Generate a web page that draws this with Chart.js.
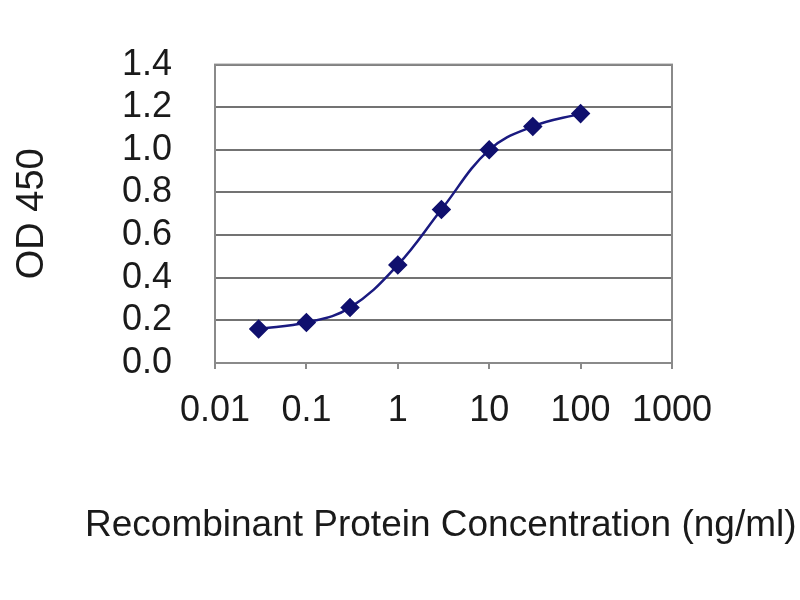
<!DOCTYPE html>
<html>
<head>
<meta charset="utf-8">
<script src="https://cdn.jsdelivr.net/npm/chart.js@4.4.1/dist/chart.umd.min.js"></script>
<style>
  html, body { margin: 0; padding: 0; background: #fff; }
  #wrap { width: 800px; height: 600px; }
</style>
</head>
<body>
<div id="wrap"><canvas id="elisaChart" width="800" height="600"></canvas></div>
<script>
// concentration (ng/ml) and measured OD 450
const concentrations = [0.03, 0.1, 0.3, 1, 3, 10, 30, 100];
const od450 = [0.16, 0.19, 0.26, 0.46, 0.72, 1.00, 1.11, 1.17];
const xTickValues = [0.01, 0.1, 1, 10, 100, 1000];
const yTickValues = [0, 0.2, 0.4, 0.6, 0.8, 1.0, 1.2, 1.4];
const xTitle = 'Recombinant Protein Concentration (ng/ml)';

const points = concentrations.map((c, i) => ({ x: c, y: od450[i] }));

// grey box round the plot area, and the x title drawn without squeezing
const frame = {
    id: 'frame',
    beforeDatasetsDraw(chart) {
        const { ctx, chartArea: a } = chart;
        ctx.save();
        ctx.strokeStyle = '#8a8a8a';
        ctx.lineWidth = 2;
        ctx.strokeRect(a.left, a.top, a.right - a.left, a.bottom - a.top);
        ctx.restore();
    },
    afterDraw(chart) {
        const { ctx } = chart;
        ctx.save();
        ctx.fillStyle = '#1a1a1a';
        ctx.font = '37px "Liberation Sans"';
        ctx.textAlign = 'left';
        ctx.textBaseline = 'middle';
        ctx.fillText(xTitle, 85, 526);
        ctx.restore();
    }
};

const ctx = document.getElementById('elisaChart').getContext('2d');
new Chart(ctx, {
    type: 'scatter',
    data: {
        datasets: [{
            data: points,
            showLine: true,
            tension: 0.4,
            borderColor: '#1a1a80',
            borderWidth: 2.5,
            pointStyle: 'rectRot',
            pointRadius: 8,
            pointBackgroundColor: '#10106e',
            pointBorderColor: '#10106e'
        }]
    },
    options: {
        responsive: false,
        animation: false,
        layout: { padding: { left: 10, top: 63, right: 128, bottom: 55 } },
        plugins: {
            legend: { display: false },
            tooltip: { enabled: false }
        },
        scales: {
            x: {
                type: 'logarithmic',
                min: 0.01,
                max: 1000,
                afterBuildTicks: (s) => { s.ticks = xTickValues.map(v => ({ value: v })); },
                afterFit: (s) => { s.height = 182; },
                grid: { drawOnChartArea: false, drawTicks: true, tickLength: 6, color: '#8a8a8a', lineWidth: 2 },
                border: { color: '#8a8a8a', width: 2 },
                ticks: {
                    autoSkip: false,
                    maxRotation: 0,
                    padding: 20,
                    color: '#1a1a1a',
                    font: { family: 'Liberation Sans', size: 36 },
                    callback: (v) => String(v)
                }
            },
            y: {
                min: 0,
                max: 1.4,
                afterBuildTicks: (s) => { s.ticks = yTickValues.map(v => ({ value: v })); },
                afterFit: (s) => { s.width = 205; },
                grid: { color: '#737373', lineWidth: 2, drawTicks: false },
                border: { color: '#8a8a8a', width: 2 },
                ticks: {
                    autoSkip: false,
                    padding: 43,
                    color: '#1a1a1a',
                    font: { family: 'Liberation Sans', size: 36 },
                    callback: (v) => Number(v).toFixed(1)
                },
                title: {
                    display: true,
                    text: 'OD 450',
                    color: '#1a1a1a',
                    font: { family: 'Liberation Sans', size: 38 },
                    padding: 0
                }
            }
        }
    },
    plugins: [frame]
});
</script>
</body>
</html>
